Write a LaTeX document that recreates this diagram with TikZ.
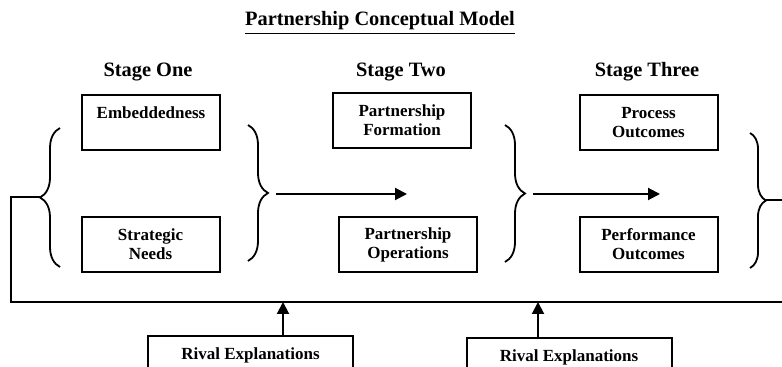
\documentclass[tikz,border=0pt]{standalone}
\usepackage{fontspec}
\setmainfont{Liberation Serif}
\usetikzlibrary{arrows.meta,decorations.pathreplacing}
\tikzset{every node/.append style={font=\fontsize{8.5}{9.5}\selectfont\bfseries}}
\tikzset{stagebox/.style={draw, line width=1pt, minimum width=69pt, minimum height=27.5pt, inner sep=0pt, align=center}}
\tikzset{rivalbox/.style={stagebox, anchor=north, minimum width=102.5pt}}
\tikzset{stagehead/.style={anchor=base, font=\fontsize{10.2}{12}\selectfont\bfseries}}
\tikzset{curly/.style={decorate, decoration={brace, amplitude=#1}, line width=0.9pt}, curly/.default=10pt}
\tikzset{flow/.style={-{Triangle[length=6pt,width=6pt]}, line width=1pt}}

\begin{document}
\begin{tikzpicture}[x=0.5pt, y=-0.5pt]
\useasboundingbox (0,0) rectangle (782,367);
\clip (0,0) rectangle (782,367);
% headings
\node[stagehead] (title) at (380,26) {\underline{Partnership Conceptual Model}};
\node[stagehead] (stageone) at (148,77) {Stage One};
\node[stagehead] (stagetwo) at (401,77) {Stage Two};
\node[stagehead] (stagethree) at (647,77) {Stage Three};

% boxes of the three stages
\node[stagebox] (embed) at (151,122.5) {Embeddedness\\\mbox{}};
\node[stagebox] (strneeds) at (150.5,244.5) {Strategic\\Needs};
\node[stagebox] (pform) at (402,120.5) {Partnership\\Formation};
\node[stagebox] (pops) at (408,245) {Partnership\\Operations};
\node[stagebox] (procout) at (648.5,123) {Process\\Outcomes};
\node[stagebox] (perfout) at (648.5,244.5) {Performance\\Outcomes};

% braces
\draw[curly] (60,267) -- (60,128);
\draw[curly] (248,125) -- (248,261);
\draw[curly] (505,125) -- (505,262);
\draw[curly=8pt] (750,133) -- (750,268);
\coordinate (b1tip) at (40,197);
\coordinate (b2tip) at (268,193);
\coordinate (b3tip) at (525,194);
\coordinate (b4tip) at (766,200);
\coordinate (a1end) at (407,194);
\coordinate (a2end) at (660,194);

\draw[flow] ([xshift=4pt]b2tip |- a1end) -- (a1end);
\draw[flow] ([xshift=4pt]b3tip) -- (a2end);

% feedback loop
\coordinate (fbL) at (11,197);
\coordinate (fbB) at (11,302);
\coordinate (fbR) at (800,302);
\draw[line width=1pt] (b1tip) -- (fbL) -- (fbB) -- (fbR);
\draw[line width=1pt] (b4tip) -- (800,200);

% rival explanations
\node[rivalbox] (rival1) at (250.5,335) {Rival Explanations\\\mbox{}};
\node[rivalbox] (rival2) at (569,337) {Rival Explanations\\\mbox{}};
\draw[flow] ([xshift=16.25pt]rival1.north) -- ([xshift=16.25pt]rival1.north |- fbB);
\draw[flow] ([xshift=-15.5pt]rival2.north) -- ([xshift=-15.5pt]rival2.north |- fbB);
\end{tikzpicture}
\end{document}
